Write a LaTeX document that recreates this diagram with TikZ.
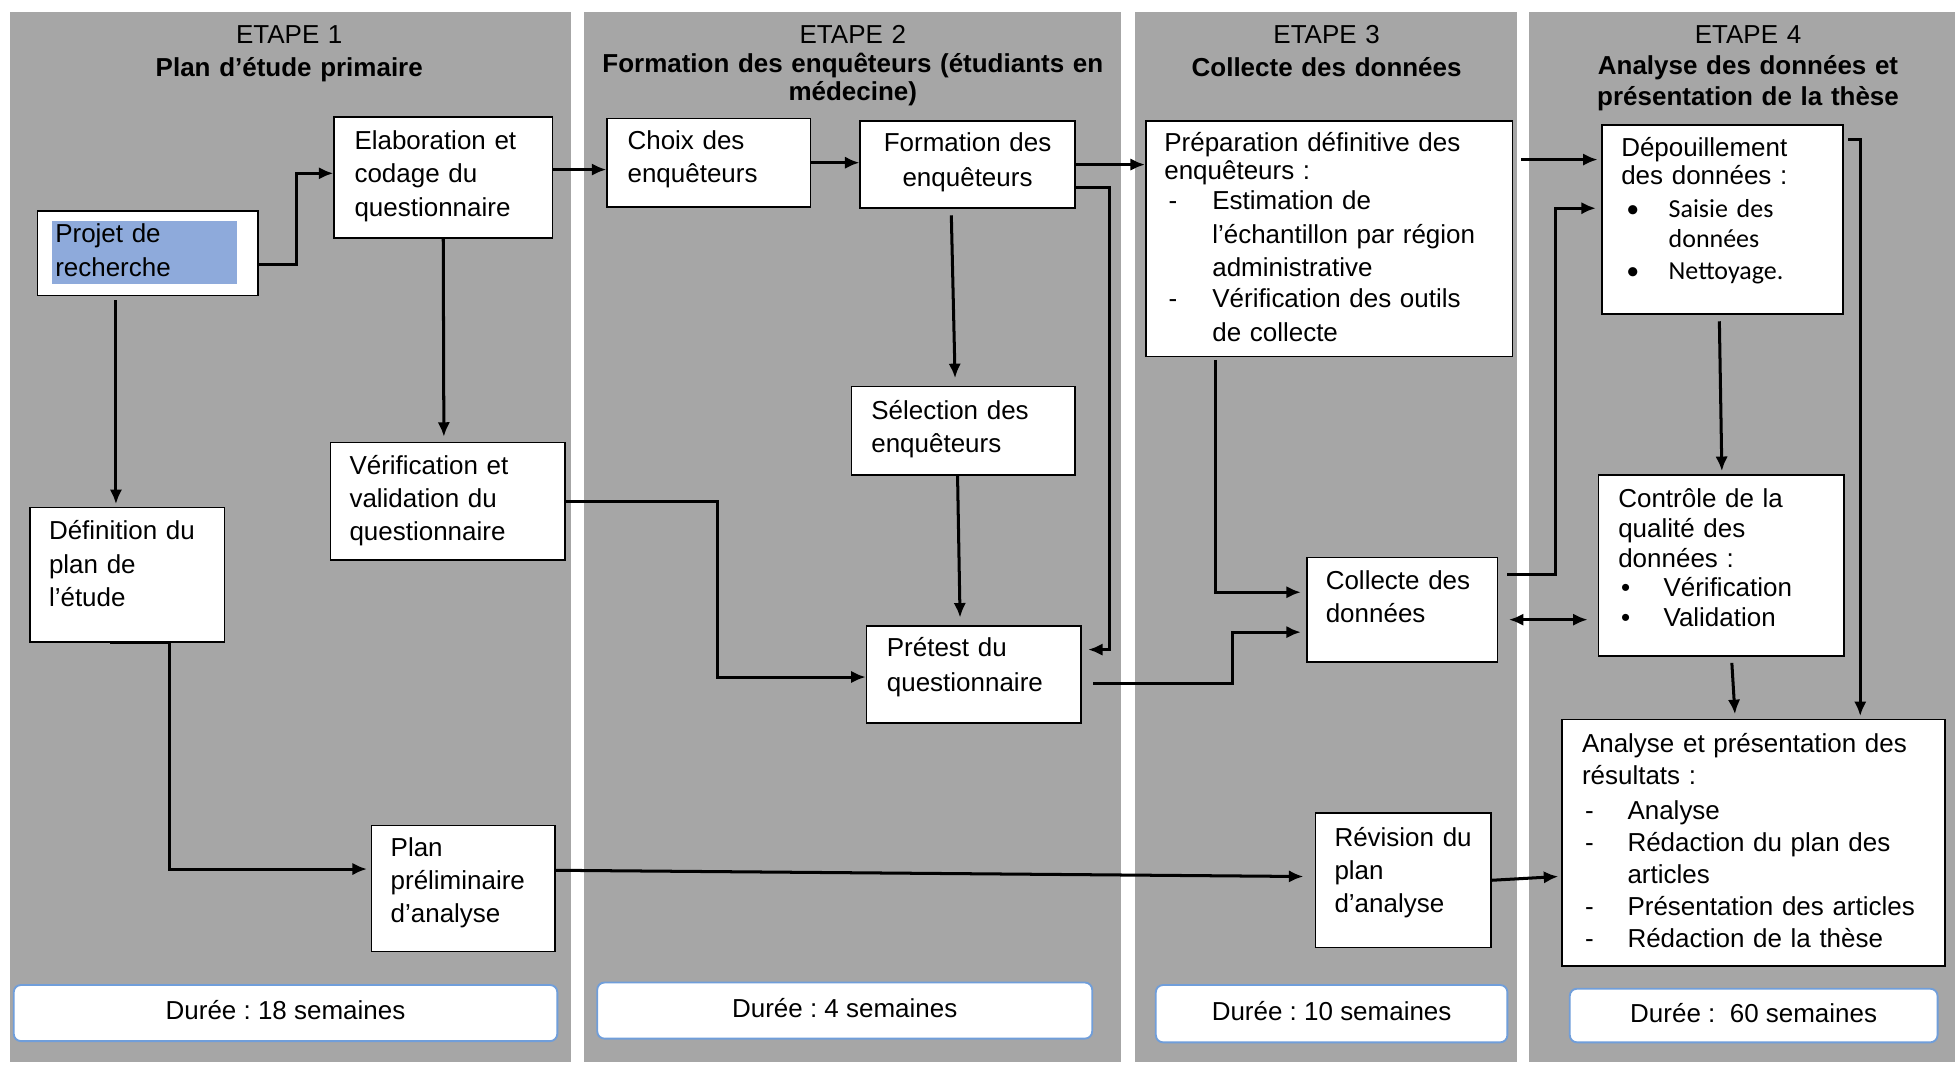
\documentclass[tikz,border=0pt]{standalone}
\usepackage{fontspec}
\setmainfont{Liberation Sans}
\newfontfamily\calfont{Carlito}
\usetikzlibrary{calc,fit,arrows.meta}
\definecolor{panelgray}{RGB}{166,166,166}
\definecolor{hiblue}{RGB}{142,170,219}
\definecolor{dureeblue}{RGB}{112,158,218}
\newcommand{\fs}[1]{\fontsize{12.5}{#1}\selectfont\frenchspacing}
\tikzset{
  box/.style={draw=black, fill=white, line width=0.8pt, inner sep=0pt},
  dbox/.style={draw=dureeblue, fill=white, line width=0.9pt, rounded corners=3.5pt, inner sep=0pt},
  dtxt/.style={inner sep=0pt, font=\fs{15pt}, yshift=1.2pt},
  txt/.style={anchor=base west, inner sep=0pt, align=left, text width=190pt, font=\fs{#1}, yshift=-1pt},
  txt/.default=16.2pt,
  ctxt/.style={anchor=base, inner sep=0pt, align=center, text width=190pt, font=\fs{#1}, yshift=-1pt},
  ctxt/.default=16.2pt,
  ttl/.style={anchor=base, inner sep=0pt, align=center, text width=300pt, font=\fs{#1}, yshift=-1.2pt},
  ttl/.default=15pt,
  arr/.style={line width=1.45pt, -{Latex[length=7pt,width=6pt]}},
  darr/.style={line width=1.45pt, {Latex[length=7pt,width=6pt]}-{Latex[length=7pt,width=6pt]}},
}
\begin{document}
\begin{tikzpicture}[x=0.6pt,y=-0.6pt]
\useasboundingbox (0,0) rectangle (1568,854);
\fill[white] (0,0) rectangle (1568,854);
% panels
\fill[panelgray] (8,10) rectangle (458,852);
\fill[panelgray] (468,10) rectangle (899,852);
\fill[panelgray] (910,10) rectangle (1217,852);
\fill[panelgray] (1226,10) rectangle (1568,852);

% titles
\node[ttl=15.6pt] (t1) at (232,33) {ETAPE 1\\\textbf{Plan d’étude primaire}};
\node[ttl=13.8pt] (t2) at (684,33) {ETAPE 2\\\textbf{Formation des enquêteurs (étudiants en}\\\textbf{médecine)}};
\node[ttl=15.6pt] (t3) at (1064,33) {ETAPE 3\\\textbf{Collecte des données}};
\node[ttl=15pt] (t4) at (1402,33) {ETAPE 4\\\textbf{Analyse des données et}\\\textbf{présentation de la thèse}};

% boxes
\node[box, fit={(30,169) (207,237)}] (projet) {};
\fill[hiblue] (42,177) rectangle (190,228);
\node[txt] (projetT) at (44,193) {Projet de\\recherche};

\node[box, fit={(268,94) (443,191)}] (elab) {};
\node[txt] (elabT) at (284,118) {Elaboration et\\codage du\\questionnaire};

\node[box, fit={(24,407) (180,515)}] (defin) {};
\node[txt] (definT) at (39,431) {Définition du\\plan de\\l’étude};

\node[box, fit={(265,355) (453,449)}] (verif) {};
\node[txt=15.9pt] (verifT) at (280,379) {Vérification et\\validation du\\questionnaire};

\node[box, fit={(298,662) (445,763)}] (planp) {};
\node[txt=15.9pt] (planpT) at (313,685) {Plan\\préliminaire\\d’analyse};

\node[box, fit={(487,95) (650,166)}] (choix) {};
\node[txt] (choixT) at (503,118) {Choix des\\enquêteurs};

\node[box, fit={(690,97) (862,167)}] (form) {};
\node[ctxt=16.8pt] (formT) at (776,120) {Formation des\\enquêteurs};

\node[box, fit={(683,310) (862,381)}] (select) {};
\node[txt=15.6pt] (selectT) at (698.5,335) {Sélection des\\enquêteurs};

\node[box, fit={(695,502) (867,580)}] (pretest) {};
\node[txt=16.8pt] (pretestT) at (711,525) {Prétest du\\questionnaire};

\node[box, fit={(919,97) (1213,286)}] (prep) {};
\node[txt=16.2pt] (prepT) at (933.5,120) {Préparation définitive des\\[-2.8pt]
enquêteurs :\\[-1.8pt]
\makebox[23.1pt][l]{\hspace{2.1pt}-}Estimation de\\
\hspace*{23.1pt}l’échantillon par région\\
\hspace*{23.1pt}administrative\\[-1.2pt]
\makebox[23.1pt][l]{\hspace{2.1pt}-}Vérification des outils\\
\hspace*{23.1pt}de collecte};

\node[box, fit={(1048,447) (1201,531)}] (collecte) {};
\node[txt] (collecteT) at (1063,471) {Collecte des\\données};

\node[box, fit={(1055,652) (1196,760)}] (revision) {};
\node[txt=15.9pt] (revisionT) at (1070,677) {Révision du\\plan\\d’analyse};

\node[box, fit={(1285,100) (1478,252)}] (depouil) {};
\node[txt=14.4pt] (depouilT) at (1300,123.6) {Dépouillement\\[-1pt]
des données :\\[1.8pt]
{\calfont\makebox[22.8pt][l]{\hspace{2.4pt}•}Saisie des}\\
{\calfont\hspace*{22.8pt}données}\\[1pt]
{\calfont\makebox[22.8pt][l]{\hspace{2.4pt}•}Nettoyage.}};

\node[box, fit={(1282,381) (1479,526)}] (controle) {};
\node[txt=14.3pt] (controleT) at (1297.6,405.6) {Contrôle de la\\qualité des\\données :\\
\makebox[21.8pt][l]{\hspace{1.4pt}•}Vérification\\
\makebox[21.8pt][l]{\hspace{1.4pt}•}Validation};

\node[box, fit={(1253,577) (1560,775)}] (analyse) {};
\node[txt=15.4pt] (analyseT) at (1268.5,602) {Analyse et présentation des\\
résultats :\\[1.4pt]
\makebox[21.9pt][l]{\hspace{1.5pt}-}Analyse\\
\makebox[21.9pt][l]{\hspace{1.5pt}-}Rédaction du plan des\\
\hspace*{21.9pt}articles\\
\makebox[21.9pt][l]{\hspace{1.5pt}-}Présentation des articles\\
\makebox[21.9pt][l]{\hspace{1.5pt}-}Rédaction de la thèse};

% durations
\node[dbox, fit={(11,790) (447,835)}] (d1) {};
\node[dtxt] (d1T) at (d1.center) {Durée : 18 semaines};
\node[dbox, fit={(479,788) (876,833)}] (d2) {};
\node[dtxt] (d2T) at (d2.center) {Durée : 4 semaines};
\node[dbox, fit={(927,790) (1209,836)}] (d3) {};
\node[dtxt] (d3T) at (d3.center) {Durée : 10 semaines};
\node[dbox, fit={(1259,793) (1554,836)}] (d4) {};
\node[dtxt] (d4T) at (d4.center) {Durée :\ \ 60 semaines};

% connectors
\draw[arr] ($(projet.east)+(0,9)$) -- ++(30,0) |- ($(elab.west)+(0,-3.5)$);
\draw[arr] ($(elab.east)+(0,-6.5)$) -- ($(choix.west)+(0,5.5)$);
\draw[arr] (choix.east) -- (choix.east -| form.west);
\draw[arr] (form.east) -- (form.east -| prep.west);
\draw[arr] ($(form.south)+(-13,5)$) -- ($(select.north)+(-6.5,-6)$);
\draw[arr] ($(form.east)+(0,18)$) -- ++(27,0) |- ($(pretest.east)+(5,-20)$);
\draw[arr] ($(select.south)+(-4.5,0)$) -- ($(pretest.north)+(-11,-6)$);
\draw[arr] (verif.east) -- ++(122,0) |- ($(pretest.west)+(0,2)$);
\draw[arr] ($(pretest.east)+(9,7)$) -- ++(112,0) |- ($(collecte.west)+(-4,18)$);
\draw[arr] ($(prep.south)+(-91,2)$) |- ($(collecte.west)+(-4,-14)$);
\draw[arr] ($(projet.south)+(-25.5,3)$) -- ($(defin.north)+(-9,-2)$);
\draw[arr] (elab.south) -- ($(verif.north)+(-3,-4)$);
\draw[arr] ($(defin.south)+(-14,0)$) -- ++(48,0) |- ($(planp.west)+(-3,-15.5)$);
\draw[arr] ($(planp.east)+(0,-14.5)$) -- ($(revision.west)+(-9,-3)$);
\draw[arr] (revision.east) -- ($(analyse.west)+(-2.5,27)$);
\draw[arr] ($(prep.east)+(6.5,-63.5)$) -- ($(depouil.west)+(-3,-48)$);
\draw[arr] ($(collecte.east)+(7,-28)$) -- ++(38.5,0) |- ($(depouil.west)+(-4.4,-9)$);
\draw[darr] ($(collecte.east)+(8.5,8)$) -- ($(controle.west)+(-8,43.5)$);
\draw[arr] ($(depouil.south)+(-2.5,5)$) -- ($(controle.north)+(0.5,-2.5)$);
\draw[arr] ($(depouil.east)+(3.5,-64)$) -| ($(analyse.north)+(85.5,-2)$);
\draw[arr] ($(controle.south)+(8.5,5)$) -- ($(analyse.north)+(-15,-3.5)$);
\end{tikzpicture}
\end{document}
